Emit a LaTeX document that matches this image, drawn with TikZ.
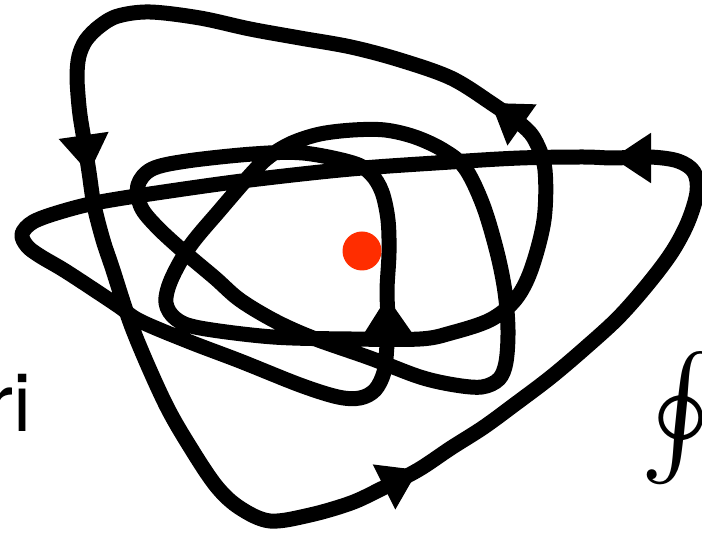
\documentclass[tikz,border=0pt]{standalone}
\usepackage{fontspec}
\newfontfamily\labelfont{TeX Gyre Heros}
\usepackage{tikz}
\usetikzlibrary{arrows.meta}
\definecolor{loopink}{HTML}{000000}
\definecolor{polered}{HTML}{FF2D00}

\begin{document}
\begin{tikzpicture}[
  x=0.5pt,y=-0.5pt,
  curve/.style={draw=loopink,line width=7.5pt,line join=round},
  flowtip/.style={draw=loopink,line width=1pt,-{Triangle[length=19pt,width=25pt]}},
  pole/.style={circle,fill=polered,inner sep=0pt,minimum size=19.5pt},
  word/.style={font=\labelfont\fontsize{40.5}{48}\selectfont,inner sep=0pt},
  ointsign/.style={scale=6,inner sep=0pt},
]
\useasboundingbox (0,0) rectangle (702,539);

% the winding loop
\draw[curve] plot[smooth cycle,tension=0.55] coordinates {
  (491,103) (451,78) (400,60) (351,47) (300,38) (250,29) (200,18) (150,12)
  (118,16) (100,26) (86,40) (79,56) (77,75) (78,95) (80,115) (84,140)
  (89,172) (94,205) (103,240) (112,267) (133,330) (165,403) (192,450)
  (217,487) (240,508) (270,521) (310,515) (351,503) (381,489) (418,470)
  (451,448) (484,427) (518,402) (551,377) (584,349) (618,318) (648,284)
  (672,252) (688,222) (697,192) (694,172) (678,161) (650,157) (613,158)
  (583,157) (520,158) (451,162) (351,169) (250,180) (170,191) (100,202)
  (60,212) (33,222) (22,234) (27,246) (40,256) (67,272) (117,305)
  (140,321) (190,342) (240,361) (300,385) (338,397) (360,398) (375,390)
  (384,372) (387,345) (388,320) (387,290) (389,253) (388,220) (382,192)
  (371,174) (353,163) (303,153) (253,154) (187,161) (152,169) (138,185)
  (141,207) (157,227) (183,251) (215,278) (240,300) (275,321) (313,338)
  (370,358) (420,377) (455,385) (482,387) (499,379) (506,362) (508,330)
  (505,292) (497,252) (483,205) (465,168) (443,150) (415,137) (385,130)
  (353,130) (320,134) (292,143) (270,156) (253,172) (220,210) (190,246)
  (171,280) (166,303) (176,319) (200,328) (273,337) (351,339) (420,339)
  (451,333) (490,320) (515,300) (531,270) (544,220) (545,170) (536,142)
  (523,126)};

% direction marks
\draw[flowtip] (539,137) -- (491,103);
\draw[flowtip] (82,124) -- (89,173);
\draw[flowtip] (362,498) -- (418,470);
\draw[flowtip] (661,158) -- (613,158);
\draw[flowtip] (388,339) -- (387,297);

% the pole
\node[pole] (pole) at (362,251) {};

% cut-off labels at the edges
\node[word,anchor=base west] (ri) at (-14,432) {ri};
\node[ointsign] (oint) at (680,418) {$\oint$};
\end{tikzpicture}
\end{document}
